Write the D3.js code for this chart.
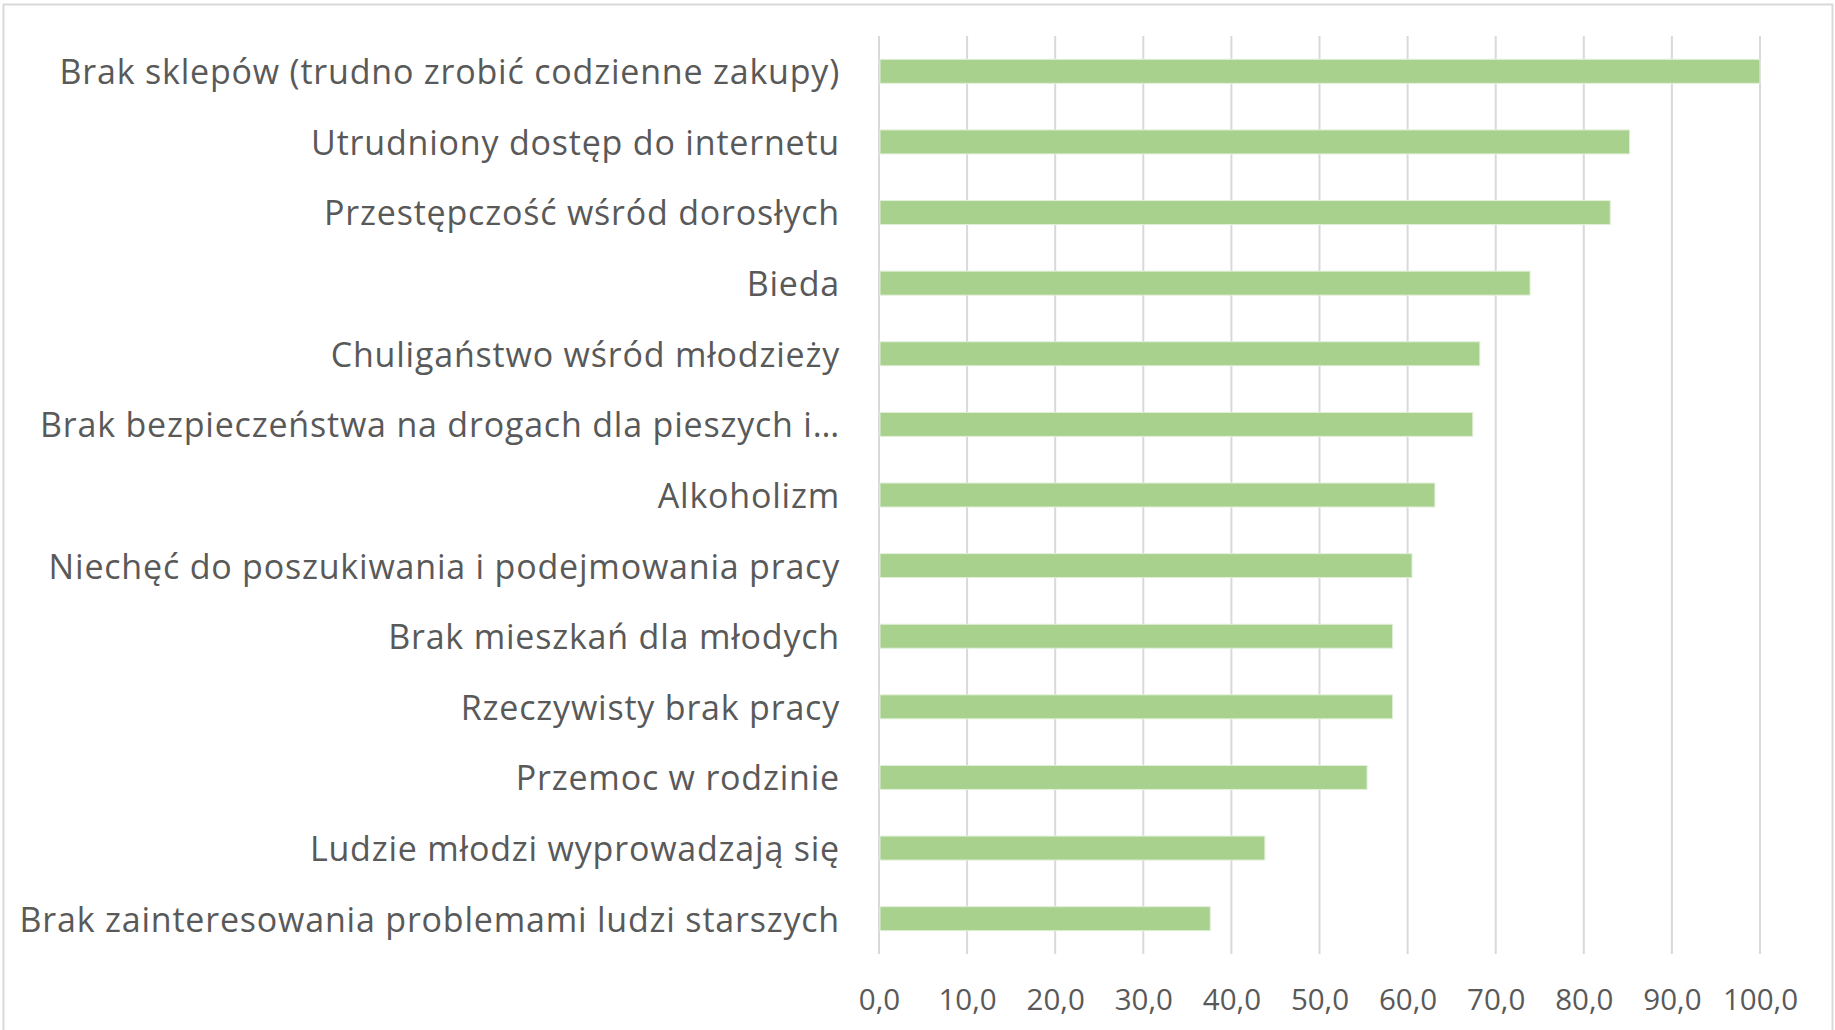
<!DOCTYPE html>
<html>
<head>
<meta charset="utf-8">
<script src="https://cdn.jsdelivr.net/npm/d3@7"></script>
<style>
  body { margin: 0; background: #fff; }
  svg text { font-family: "Open Sans", Lato, sans-serif; fill: #595959; }
</style>
</head>
<body>
<div id="chart"></div>
<script>
/*
  DATA
*/
var categories = [
  "Brak sklepów (trudno zrobić codzienne zakupy)",
  "Utrudniony dostęp do internetu",
  "Przestępczość wśród dorosłych",
  "Bieda",
  "Chuligaństwo wśród młodzieży",
  "Brak bezpieczeństwa na drogach dla pieszych i…",
  "Alkoholizm",
  "Niechęć do poszukiwania i podejmowania pracy",
  "Brak mieszkań dla młodych",
  "Rzeczywisty brak pracy",
  "Przemoc w rodzinie",
  "Ludzie młodzi wyprowadzają się",
  "Brak zainteresowania problemami ludzi starszych"
];
var values = [100.0, 85.2, 83.0, 73.9, 68.2, 67.4, 63.1, 60.5, 58.3, 58.3, 55.4, 43.8, 37.6];
var ticks = [0, 10, 20, 30, 40, 50, 60, 70, 80, 90, 100];

/*
  LAYOUT
*/
var width = 1835;
var height = 1030;
var plotLeft = 879, plotRight = 1760, plotTop = 36, plotBottom = 954;

var svg = d3.select("#chart")
  .append("svg")
    .attr("width", width)
    .attr("height", height);

// frame
svg.append("rect")
  .attr("x", 3.5).attr("y", 4.5)
  .attr("width", 1829).attr("height", 1040)
  .attr("fill", "none")
  .attr("stroke", "#d9d9d9")
  .attr("stroke-width", 2);

var x = d3.scaleLinear()
  .domain([0, 100])
  .range([plotLeft, plotRight]);

var y = d3.scaleBand()
  .domain(categories)
  .range([plotTop, plotBottom])
  .paddingInner(0.66)
  .paddingOuter(0.33);

// gridlines
svg.append("g")
  .selectAll("line")
  .data(ticks)
  .enter()
  .append("line")
    .attr("x1", d => x(d)).attr("x2", d => x(d))
    .attr("y1", plotTop).attr("y2", plotBottom)
    .attr("stroke", "#d9d9d9")
    .attr("stroke-width", 2);

// bars
svg.append("g")
  .selectAll("rect")
  .data(values)
  .enter()
  .append("rect")
    .attr("x", x(0) + 1)
    .attr("y", (d, i) => y(categories[i]))
    .attr("width", d => x(d) - x(0) - 1)
    .attr("height", y.bandwidth())
    .attr("fill", "#a9d18e")
    .attr("stroke", "#e2f0d9")
    .attr("stroke-width", 1);

// x axis labels
var xAxis = d3.axisBottom(x)
  .tickValues(ticks)
  .tickSize(0)
  .tickPadding(0)
  .tickFormat(d => d3.format(".1f")(d).replace(".", ","));

var gx = svg.append("g")
  .attr("transform", "translate(0," + 1000 + ")")
  .call(xAxis);
gx.select(".domain").remove();
gx.selectAll("text")
  .attr("dy", "0.35em")
  .attr("y", 0)
  .style("font-size", "29.5px")
  .style("font-family", "'Open Sans', sans-serif")
  .attr("fill", "#595959");

// y axis labels
var yAxis = d3.axisLeft(y)
  .tickSize(0)
  .tickPadding(0);

var gy = svg.append("g")
  .attr("transform", "translate(" + 840 + ",2)")
  .call(yAxis);
gy.select(".domain").remove();
gy.selectAll("text")
  .attr("x", 0)
  .style("font-size", "34px")
  .style("letter-spacing", "0.8px")
  .style("font-family", "'Open Sans', sans-serif")
  .attr("fill", "#595959");
</script>
</body>
</html>
